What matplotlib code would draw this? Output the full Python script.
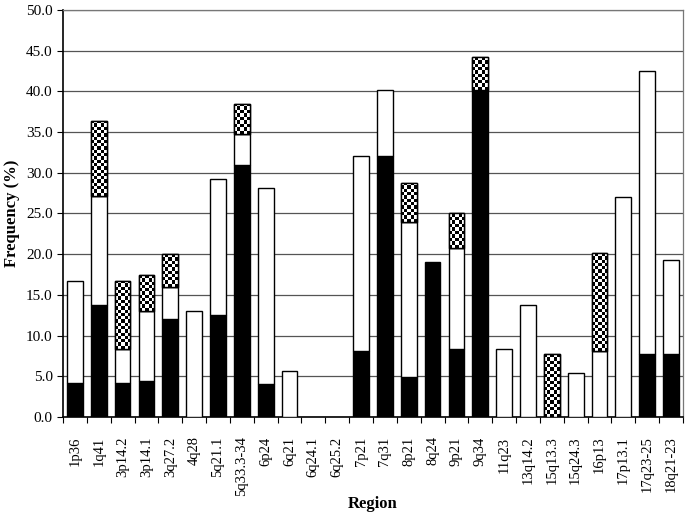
import matplotlib.pyplot as plt
import numpy as np

regions = ["1p36", "1q41", "3p14.2", "3p14.1", "3q27.2", "4q28", "5q21.1",
           "5q33.3-34", "6p24", "6q21", "6q24.1", "6q25.2", "7p21", "7q31",
           "8p21", "8q24", "9p21", "9q34", "11q23", "13q14.2", "15q13.3",
           "15q24.3", "16p13", "17p13.1", "17q23-25", "18q21-23"]
# segment heights (black bottom, white middle, checkered top)
black = [4.2, 13.7, 4.2, 4.4, 12.1, 0, 12.5, 31.0, 4.1, 0, 0, 0, 8.1, 32.1,
         4.9, 19.0, 8.4, 40.2, 0, 0, 0, 0, 0, 0, 7.8, 7.8]
white = [12.5, 13.4, 4.1, 8.6, 3.9, 13.0, 16.7, 3.7, 24.0, 5.7, 0, 0, 24.0, 8.0,
         19.0, 0, 12.4, 0, 8.4, 13.8, 0, 5.4, 8.1, 27.0, 34.7, 11.5]
checker = [0, 9.3, 8.4, 4.4, 4.0, 0, 0, 3.7, 0, 0, 0, 0, 0, 0,
           4.9, 0, 4.2, 4.0, 0, 0, 7.7, 0, 12.0, 0, 0, 0]

plt.rcParams['font.family'] = 'Liberation Serif'

fig = plt.figure(figsize=(6.85, 5.2), dpi=100)
ax = fig.add_axes([0.092, 0.198, 0.905, 0.783])

x = np.arange(len(regions))
w = 0.66
black = np.array(black)
white = np.array(white)
checker = np.array(checker)

def draw(heights, bottom, color):
    m = heights > 0
    return ax.bar(x[m], heights[m], w, bottom=bottom[m], color=color,
                  edgecolor='black', linewidth=1, zorder=3)

zero = np.zeros(len(regions))
draw(black, zero, 'black')
draw(white, black, 'white')
cb = draw(checker, black + white, 'white')

# checkerboard fill for the top segments
px_per_unit = 406 / 50.0
cell = 3.3
for rect in cb:
    x0, y0, h = rect.get_x(), rect.get_y(), rect.get_height()
    ny = max(1, int(round(h * px_per_unit / cell)))
    nx = 5
    img = (np.add.outer(np.arange(ny), np.arange(nx)) % 2).astype(float)
    im = ax.imshow(img, cmap='gray', extent=[x0, x0 + w, y0, y0 + h],
                   aspect='auto', interpolation='nearest', zorder=3.5, origin='lower')
    im.set_clip_path(rect)
    ax.add_patch(plt.Rectangle((x0, y0), w, h, fill=False, edgecolor='black',
                               linewidth=1, zorder=4))

ax.set_xlim(-0.5, len(regions) - 0.5)
ax.set_ylim(0, 50)
ax.set_yticks(np.arange(0, 50.1, 5))
ax.set_yticklabels([f"{v:.1f}" for v in np.arange(0, 50.1, 5)], fontsize=11)
ax.yaxis.grid(True, color='#555555', linewidth=0.9)
ax.set_axisbelow(True)

ax.set_xticks(np.arange(-0.5, len(regions), 1))
ax.set_xticklabels([])
ax.set_xticks(x, minor=True)
ax.set_xticklabels(regions, minor=True, rotation=90, fontsize=10.5)
ax.tick_params(axis='x', which='minor', length=0, pad=14)
ax.tick_params(axis='x', which='major', length=4, direction='out')
ax.tick_params(axis='y', length=4, direction='out')

for s in ['top', 'right']:
    ax.spines[s].set_color('#777777')
    ax.spines[s].set_linewidth(0.9)
ax.spines['left'].set_linewidth(1.2)
ax.spines['bottom'].set_linewidth(1.2)

ax.set_ylabel('Frequency (%)', fontsize=12, fontweight='bold')
ax.set_xlabel('Region', fontsize=12, fontweight='bold')
ax.xaxis.set_label_coords(0.5, -0.195)

fig.savefig('out.png', dpi=100)
